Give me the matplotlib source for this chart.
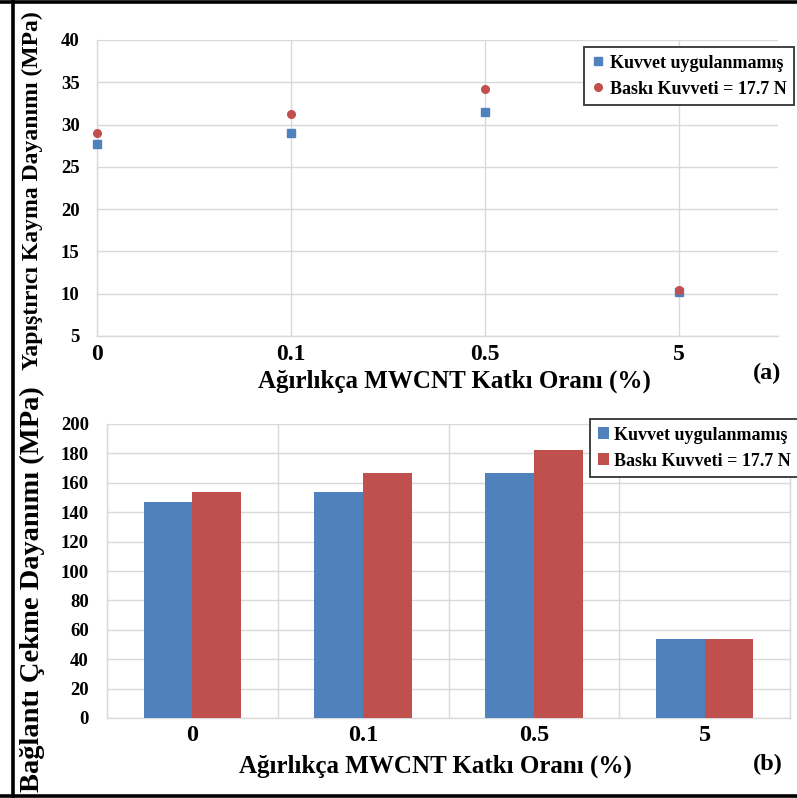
import matplotlib
matplotlib.use("Agg")
import matplotlib.pyplot as plt
from matplotlib.lines import Line2D
from matplotlib.patches import Patch
import numpy as np

# MWCNT content (wt.%) categories
categories = ['0', '0.1', '0.5', '5']

# (a) adhesive shear strength, MPa
shear_no_force = [27.7, 29.0, 31.5, 10.2]
shear_with_force = [29.0, 31.3, 34.2, 10.4]

# (b) joint tensile strength, MPa
tensile_no_force = [147, 154, 166.5, 53.5]
tensile_with_force = [154, 167, 182, 54]

label_no_force = 'Kuvvet uygulanmamış'
label_with_force = 'Baskı Kuvveti = 17.7 N'
xlabel = 'Ağırlıkça MWCNT Katkı Oranı (%)'
ylabel_a = 'Yapıştırıcı Kayma Dayanımı (MPa)'
ylabel_b = 'Bağlantı Çekme Dayanımı (MPa)'

BLUE = '#4F81BD'
RED = '#C0504D'
GRID = '#D9D9D9'

plt.rcParams['font.family'] = ['Liberation Serif', 'DejaVu Serif']
plt.rcParams['font.weight'] = 'bold'

W, H = 797, 798
fig = plt.figure(figsize=(W / 100, H / 100), dpi=100)
fig.patch.set_facecolor('white')


def fx(px):
    return px / W


def fy(py):
    return 1 - py / H


# ---------------- (a) scatter ----------------
ax1 = fig.add_axes([fx(97), fy(336), fx(778) - fx(97), fy(40) - fy(336)])
x = np.arange(len(categories))
ax1.set_xlim(0, 3.51)
ax1.set_ylim(5, 40)
ax1.set_yticks(np.arange(5, 41, 5))
ax1.set_xticks(x)
ax1.set_xticklabels(categories, fontsize=17, fontweight='bold')
ax1.tick_params(axis='y', labelsize=13.5, length=0, pad=12.5)
ax1.tick_params(axis='x', length=0, pad=6)
ax1.grid(True, color=GRID, linewidth=1.0)
ax1.set_axisbelow(True)
for side in ['top', 'right']:
    ax1.spines[side].set_visible(False)
for side in ['left', 'bottom']:
    ax1.spines[side].set_color(GRID)
    ax1.spines[side].set_linewidth(1.0)

ax1.plot(x, shear_no_force, linestyle='none', marker='s', markersize=5.5,
         color=BLUE, clip_on=False, zorder=3)
ax1.plot(x, shear_with_force, linestyle='none', marker='o', markersize=5.5,
         color=RED, clip_on=False, zorder=4)

handles_a = [
    Line2D([], [], linestyle='none', marker='s', markersize=5.5, color=BLUE),
    Line2D([], [], linestyle='none', marker='o', markersize=5.5, color=RED),
]
leg1 = fig.legend(handles_a, [label_no_force, label_with_force],
                  loc='upper left', bbox_to_anchor=(fx(584), fy(47)),
                  prop={'family': 'Liberation Serif', 'weight': 'bold', 'size': 13},
                  frameon=True, fancybox=False, handlelength=0.7,
                  handletextpad=0.3, labelspacing=0.5, borderpad=0.42,
                  borderaxespad=0, framealpha=1)
leg1.get_frame().set_edgecolor('#333333')
leg1.get_frame().set_linewidth(1.3)

fig.text(fx(454), fy(388), xlabel, ha='center', va='baseline',
         fontsize=18, fontweight='bold')
fig.text(fx(767), fy(373), '(a)', ha='center', va='center',
         fontsize=17.5, fontweight='bold')
fig.text(fx(32), fy(191), ylabel_a, ha='center', va='center',
         rotation=90, fontsize=17, fontweight='bold')

# ---------------- (b) grouped bars ----------------
ax2 = fig.add_axes([fx(107), fy(718), fx(790) - fx(107), fy(424) - fy(718)])
bar_w = 0.286
ax2.bar(x - bar_w / 2, tensile_no_force, width=bar_w, color=BLUE,
        label=label_no_force, zorder=3)
ax2.bar(x + bar_w / 2, tensile_with_force, width=bar_w, color=RED,
        label=label_with_force, zorder=3)
ax2.set_xlim(-0.5, 3.5)
ax2.set_ylim(0, 200)
ax2.set_yticks(np.arange(0, 201, 20))
ax2.set_xticks(x)
ax2.set_xticklabels(categories, fontsize=17.5, fontweight='bold')
ax2.set_xticks(np.arange(-0.5, 3.6, 1.0), minor=True)
ax2.tick_params(axis='y', labelsize=13.5, length=0, pad=13)
ax2.tick_params(axis='x', which='both', length=0, pad=5)
ax2.grid(True, axis='y', color=GRID, linewidth=1.0)
ax2.grid(True, axis='x', which='minor', color=GRID, linewidth=1.0)
ax2.set_axisbelow(True)
ax2.spines['top'].set_visible(False)
for side in ['left', 'bottom', 'right']:
    ax2.spines[side].set_color(GRID)
    ax2.spines[side].set_linewidth(1.0)

handles_b = [Patch(facecolor=BLUE), Patch(facecolor=RED)]
leg2 = fig.legend(handles_b, [label_no_force, label_with_force],
                  loc='upper left', bbox_to_anchor=(fx(590), fy(419)),
                  prop={'family': 'Liberation Serif', 'weight': 'bold', 'size': 13},
                  frameon=True, fancybox=False, handlelength=0.62,
                  handleheight=0.62, handletextpad=0.3, labelspacing=0.5,
                  borderpad=0.42, borderaxespad=0, framealpha=1)
leg2.get_frame().set_edgecolor('#333333')
leg2.get_frame().set_linewidth(1.3)

fig.text(fx(435), fy(773), xlabel, ha='center', va='baseline',
         fontsize=18, fontweight='bold')
fig.text(fx(768), fy(764), '(b)', ha='center', va='center',
         fontsize=17.5, fontweight='bold')
fig.text(fx(32), fy(589), ylabel_b, ha='center', va='center',
         rotation=90, fontsize=20.5, fontweight='bold')

# outer frame (left, top, bottom)
for xs, ys in [([fx(12.5), fx(12.5)], [0, 1]),
               ([0, 1], [fy(1.5), fy(1.5)]),
               ([0, 1], [fy(796), fy(796)])]:
    fig.add_artist(Line2D(xs, ys, color='black', linewidth=2.6,
                          transform=fig.transFigure))

fig.savefig('out.png', dpi=100)
